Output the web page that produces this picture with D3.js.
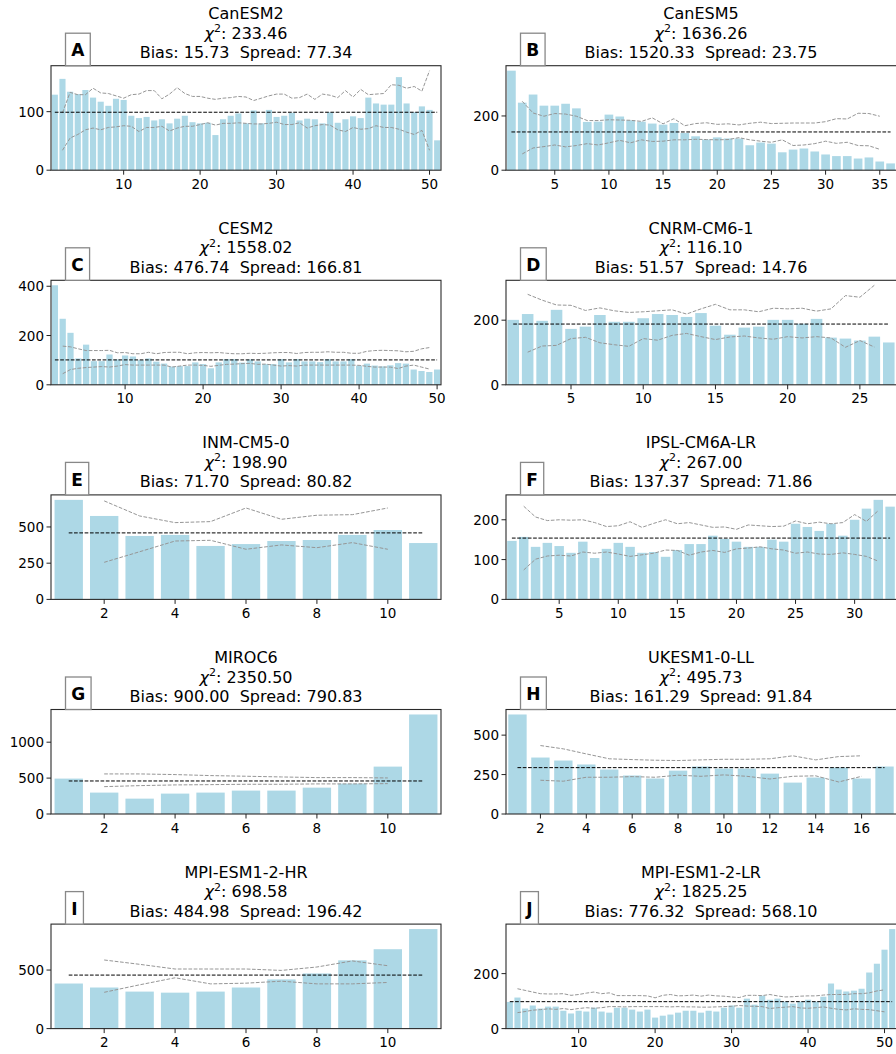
<!DOCTYPE html>
<html><head><meta charset="utf-8">
<script src="https://cdn.jsdelivr.net/npm/d3@7"></script>
<style>body{margin:0;background:#fff} text{font-family:"DejaVu Sans",sans-serif;fill:#000}</style>
</head><body><svg id="c" width="896" height="1054"></svg>
<script>
const letters = ["A","B","C","D","E","F","G","H","I","J"];
const models = ["CanESM2","CanESM5","CESM2","CNRM-CM6-1","INM-CM5-0","IPSL-CM6A-LR","MIROC6","UKESM1-0-LL","MPI-ESM1-2-HR","MPI-ESM1-2-LR"];
const chi2 = ["233.46","1636.26","1558.02","116.10","198.90","267.00","2350.50","495.73","698.58","1825.25"];
const bias = ["15.73","1520.33","476.74","51.57","71.70","137.37","900.00","161.29","484.98","776.32"];
const spread = ["77.34","23.75","166.81","14.76","80.82","71.86","790.83","91.84","196.42","568.10"];
const expected = [99,141,101,188,459,154,460,294,457,98];

const countsA = [129,156,134,130,137,124,117,110,122,120, 93,89,91,85,87,80,88,93,82,80, 81,60,87,93,97,80,102,80,103,91, 93,98,85,88,87,80,99,81,87,92, 89,124,114,112,112,159,114,99,109,103,51];
const upperA = [98,133,129,129,140,132,131,127,123,129, 130,136,136,122,130,141,131,126,126,123, 121,123,124,126,125,119,123,127,130,130, 123,124,130,121,130,128,124,136,125,138, 129,130,131,146,145,140,143,135,170];
const lowerA = [34,55,61,69,72,69,73,74,76,75, 66,73,73,75,67,72,75,75,78,81, 77,80,80,81,80,79,79,80,82,78, 78,81,72,76,78,77,69,66,73,70, 71,76,73,73,70,65,61,68,34];

const countsB = [367,249,279,238,238,245,228,178,179,205, 198,184,179,172,168,174,137,125,113,121, 117,117,92,102,98,66,76,80,69,58, 52,52,43,47,32,25];
const upperB = [254,211,199,209,207,199,183,183,186,185, 184,180,193,171,190,164,172,175,169,171, 167,173,177,172,173,174,174,174,179,190, 189,210,209,199];
const lowerB = [60,82,87,93,86,91,98,93,101,110, 101,112,106,107,112,112,114,113,112,113, 120,112,107,103,112,91,93,98,107,99, 103,91,90,77];

const countsC = [404,268,211,107,163,96,96,123,103,119, 115,100,107,94,86,74,76,76,91,84, 67,91,104,104,90,103,95,84,84,104, 91,104,95,95,92,104,95,95,104,78, 86,78,75,79,88,86,62,56,52,62];
const upperC = [157,154,146,139,139,139,140,130,131,126, 126,132,126,131,132,132,126,130,131,130, 131,128,126,126,128,127,128,130,131,131, 127,131,132,132,134,132,132,128,128,136, 139,140,139,138,134,136,146,151];
const lowerC = [45,62,67,70,72,74,72,76,82,80, 80,80,80,80,72,76,80,80,79,75, 79,83,84,86,87,83,84,80,76,78, 76,80,80,80,80,80,80,80,79,75, 72,72,72,66,76,80,72,64];

const countsD = [201,219,198,232,173,180,216,195,195,206, 219,216,210,222,183,155,177,180,201,201, 189,204,146,143,137,149,131];
const upperD = [280,262,247,246,230,238,229,224,226,229, 232,219,235,249,232,232,226,237,235,237, 228,235,276,271,308];
const lowerD = [101,120,122,143,147,130,124,119,143,138, 153,159,149,140,148,151,145,141,149,145, 149,145,116,137,117];

const countsE = [687,576,438,445,369,382,403,410,445,479,389];
const upperE = [680,576,530,537,631,553,581,585,631];
const lowerE = [256,329,403,408,346,376,357,392,346];

const countsF = [147,157,132,142,134,117,145,104,127,142, 132,117,119,107,124,139,139,160,152,145, 132,132,150,145,190,182,172,190,160,200, 228,250,233];
const upperF = [234,207,198,200,199,200,193,183,185,195, 181,191,200,190,193,187,181,182,176,187, 185,183,184,197,190,194,190,193,213,196, 223];
const lowerF = [74,101,109,111,109,119,116,119,114,108, 112,116,124,123,111,119,123,118,127,129, 132,127,124,116,119,114,113,117,113,108, 96];

const countsG = [493,298,214,284,298,326,326,367,423,660,1386];
const upperG = [558,558,549,535,526,516,507,507,502];
const lowerG = [381,395,405,409,414,414,419,419,423];

const countsH = [631,358,339,314,282,244,225,275,301,288,288,256,199,231,294,225,301];
const upperH = [434,413,381,350,345,341,339,343,347,347,350,369,343,364,369];
const lowerH = [214,208,233,233,237,233,246,239,248,239,222,239,242,203,239];

const countsI = [385,351,316,307,316,351,420,471,583,678,850];
const upperI = [586,549,509,509,509,497,526,578,537];
const lowerI = [310,374,434,382,388,405,382,382,394];

const countsJ = [97,113,73,84,73,80,80,65,55,65, 62,76,62,58,76,76,69,62,69,40, 47,51,58,65,65,58,65,62,76,84, 76,109,87,120,105,109,98,91,98,105, 98,116,164,142,135,138,145,204,236,287,362];
const upperJ = [145,139,133,127,126,126,127,121,124,129, 133,127,130,120,120,120,120,119,112,121, 124,119,120,122,118,122,119,118,115,113, 121,121,120,124,119,115,116,118,119,119, 122,124,124,124,127,127,130,137,141];
const lowerJ = [58,62,67,69,72,70,73,69,73,76, 74,76,80,80,79,80,80,80,80,80, 79,80,79,79,78,78,79,80,81,84, 82,81,80,73,76,78,80,75,74,76, 79,74,70,68,72,70,69,65,61];

const xTicks = [[10,20,30,40,50],[5,10,15,20,25,30,35],[10,20,30,40,50],[5,10,15,20,25],[2,4,6,8,10],[5,10,15,20,25,30],[2,4,6,8,10],[2,4,6,8,10,12,14,16],[2,4,6,8,10],[10,20,30,40,50]];
const yTicks = [[0,100],[0,200],[0,200,400],[0,200],[0,250,500],[0,100,200],[0,500,1000],[0,250,500],[0,500],[0,200]];

const counts = [countsA,countsB,countsC,countsD,countsE,countsF,countsG,countsH,countsI,countsJ];
const uppers = [upperA,upperB,upperC,upperD,upperE,upperF,upperG,upperH,upperI,upperJ];
const lowers = [lowerA,lowerB,lowerC,lowerD,lowerE,lowerF,lowerG,lowerH,lowerI,lowerJ];

const svg = d3.select("#c");
svg.append("rect").attr("width",896).attr("height",1054).attr("fill","#fff");

for (let p = 0; p < 10; p++) {
  const col = p % 2, row = Math.floor(p / 2);
  const left = col ? 506 : 51;
  const w = 390;
  const top = 65.7 + row * 214.6;
  const h = 104.5;
  const data = counts[p], N = data.length;
  const up = uppers[p], lo = lowers[p];
  const ymax = d3.max([d3.max(data), d3.max(up), d3.max(lo), expected[p]]) * 1.05;
  const x = d3.scaleLinear().domain([0.5, N + 0.5]).range([left, left + w]);
  const y = d3.scaleLinear().domain([0, ymax]).range([top + h, top]);
  const g = svg.append("g");
  const unit = x(2) - x(1);

  g.selectAll("rect.bar").data(data).enter().append("rect")
    .attr("x", (d, i) => x(i + 1) - 0.4 * unit)
    .attr("width", 0.8 * unit)
    .attr("y", d => y(d))
    .attr("height", d => y(0) - y(d))
    .attr("fill", "#add8e6");

  const line = d3.line().x(d => x(d[0])).y(d => y(d[1]));
  const upPts = up.map((v, i) => [i + 2, v]);
  const loPts = lo.map((v, i) => [i + 2, v]);
  [upPts, loPts].forEach(pts => {
    g.append("path").attr("d", line(pts)).attr("fill", "none")
      .attr("stroke", "#969696").attr("stroke-width", 1).attr("stroke-dasharray", "3.7,1.6");
  });
  g.append("path").attr("d", line([[1, expected[p]], [N, expected[p]]])).attr("fill", "none")
    .attr("stroke", "#000").attr("stroke-width", 1).attr("stroke-dasharray", "3.7,1.6");

  // frame
  g.append("rect").attr("x", left).attr("y", top).attr("width", col ? w + 1.5 : w).attr("height", h)
    .attr("fill", "none").attr("stroke", "#2a2a2a").attr("stroke-width", 1.1);

  // axis ticks
  xTicks[p].forEach(t => {
    g.append("line").attr("x1", x(t)).attr("x2", x(t)).attr("y1", top + h).attr("y2", top + h + 4.5)
      .attr("stroke", "#222").attr("stroke-width", 1);
    g.append("text").attr("x", x(t)).attr("y", top + h + 18.5).attr("text-anchor", "middle")
      .attr("font-size", 13.5).text(t);
  });
  yTicks[p].forEach(t => {
    g.append("line").attr("x1", left - 4.5).attr("x2", left).attr("y1", y(t)).attr("y2", y(t))
      .attr("stroke", "#222").attr("stroke-width", 1);
    g.append("text").attr("x", left - 7).attr("y", y(t) + 5).attr("text-anchor", "end")
      .attr("font-size", 13.5).text(t);
  });

  // titles
  const cx = left + w / 2;
  g.append("text").attr("x", cx).attr("y", top - 46.5).attr("text-anchor", "middle")
    .attr("font-size", 16).text(models[p]);
  const t2 = g.append("text").attr("x", cx).attr("y", top - 27).attr("text-anchor", "middle")
    .attr("font-size", 16);
  t2.append("tspan").attr("font-style", "italic").text("χ");
  t2.append("tspan").attr("font-size", 11).attr("dy", -6.5).text("2");
  t2.append("tspan").attr("dy", 6.5).text(": " + chi2[p]);
  g.append("text").attr("x", cx).attr("y", top - 7.5).attr("text-anchor", "middle")
    .attr("font-size", 16).style("white-space", "pre")
    .text("Bias: " + bias[p] + "  Spread: " + spread[p]);

  // letter box
  const lbx = left + 14.5;
  const lt = g.append("text").attr("x", lbx + 5.8).attr("y", top - 9.3)
    .attr("font-size", 17).attr("font-weight", "bold").text(letters[p]);
  const tw = lt.node().getComputedTextLength();
  g.insert("rect", "text:last-child").attr("x", lbx).attr("y", top - 32.5)
    .attr("width", tw + 11.6).attr("height", 32.5)
    .attr("fill", "#fff").attr("stroke", "#888").attr("stroke-width", 1.3);
  lt.raise();
}
</script></body></html>
